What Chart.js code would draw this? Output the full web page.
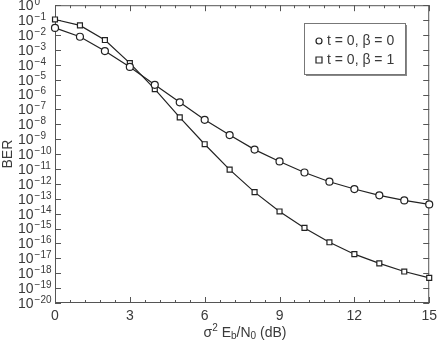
<!DOCTYPE html>
<html>
<head>
<meta charset="utf-8">
<script src="https://cdn.jsdelivr.net/npm/chart.js@4.4.1/dist/chart.umd.min.js"></script>
<style>
  html, body { margin: 0; padding: 0; background: #fff; }
  #wrap { width: 442px; height: 344px; }
</style>
</head>
<body>
<div id="wrap"><canvas id="c"></canvas></div>
<script>
// Eb/N0 in dB
const snr = [0, 1, 2, 3, 4, 5, 6, 7, 8, 9, 10, 11, 12, 13, 14, 15];
// t = 0, beta = 0 (circles)
const berBeta0 = [3.0e-2, 7.6e-3, 8.3e-4, 7.1e-5, 4.5e-6, 3.0e-7, 2.0e-8, 1.9e-9,
                  2.0e-10, 3.2e-11, 5.8e-12, 1.4e-12, 4.5e-13, 1.7e-13, 7.8e-14, 4.2e-14];
// t = 0, beta = 1 (squares)
const berBeta1 = [1.1e-1, 4.4e-2, 4.6e-3, 1.3e-4, 2.3e-6, 2.9e-8, 4.6e-10, 9.1e-12,
                  2.8e-13, 1.4e-14, 1.1e-15, 1.2e-16, 1.9e-17, 4.6e-18, 1.3e-18, 4.9e-19];
const seriesLabels = ['t = 0, β = 0', 't = 0, β = 1'];
const xTicks = [0, 3, 6, 9, 12, 15];
const yExponents = [0, -1, -2, -3, -4, -5, -6, -7, -8, -9, -10,
                    -11, -12, -13, -14, -15, -16, -17, -18, -19, -20];

const ink = '#222';
const textCol = '#3a3a3a';
const font = 'Liberation Sans, Arial, sans-serif';

// frame, inward ticks, y labels, x title
const decor = {
  id: 'decor',
  beforeDatasetsDraw(chart) {
    const ctx = chart.ctx;
    const a = chart.chartArea;
    const xs = chart.scales.x, ys = chart.scales.y;
    ctx.save();
    ctx.strokeStyle = '#555';
    ctx.lineWidth = 1;
    ctx.strokeRect(a.left + 0.5, a.top + 0.5, a.right - a.left - 1, a.bottom - a.top - 1);

    // x ticks every 0.6 dB, longer at multiples of 3
    ctx.beginPath();
    for (let i = 0; i <= 25; i++) {
      const px = Math.round(xs.getPixelForValue(i * 0.6)) + 0.5;
      const len = i % 5 === 0 ? 6 : 3;
      ctx.moveTo(px, a.bottom); ctx.lineTo(px, a.bottom - len);
      ctx.moveTo(px, a.top); ctx.lineTo(px, a.top + len);
    }
    // y ticks every decade
    yExponents.forEach(e => {
      const py = Math.round(ys.getPixelForValue(Math.pow(10, e))) + 0.5;
      ctx.moveTo(a.left, py); ctx.lineTo(a.left + 6, py);
      ctx.moveTo(a.right, py); ctx.lineTo(a.right - 6, py);
    });
    ctx.stroke();

    // y tick labels 10^n
    ctx.fillStyle = textCol;
    ctx.textBaseline = 'middle';
    ctx.textAlign = 'left';
    yExponents.forEach(e => {
      const py = ys.getPixelForValue(Math.pow(10, e));
      ctx.font = '14px ' + font;
      ctx.fillText('10', 18, py + 1);
      const w = ctx.measureText('10').width;
      ctx.font = '10px ' + font;
      ctx.fillText(e === 0 ? '0' : '\u2212' + Math.abs(e), 18 + w + 1, py - 3);
    });

    // x title: sigma^2 E_b/N_0 (dB)
    const parts = [
      ['σ', 14, 0], ['2', 10, -5], [' E', 14, 0], ['b', 10, 3],
      ['/N', 14, 0], ['0', 10, 3], [' (dB)', 14, 0]
    ];
    let total = 0;
    parts.forEach(p => { ctx.font = p[1] + 'px ' + font; total += ctx.measureText(p[0]).width; });
    let x = 245 - total / 2;
    const ty = 333;
    parts.forEach(p => {
      ctx.font = p[1] + 'px ' + font;
      ctx.fillText(p[0], x, ty + p[2]);
      x += ctx.measureText(p[0]).width;
    });
    ctx.restore();
  },
  afterDraw(chart) {
    const ctx = chart.ctx;
    ctx.save();
    // legend box with shadow
    const bx = 304, by = 23, bw = 101, bh = 51;
    ctx.fillStyle = '#888';
    ctx.fillRect(bx + 2, by + 2, bw, bh);
    ctx.fillStyle = '#fff';
    ctx.fillRect(bx, by, bw, bh);
    ctx.strokeStyle = '#777';
    ctx.lineWidth = 1;
    ctx.strokeRect(bx + 0.5, by + 0.5, bw, bh);
    const rows = [41, 60];
    chart.data.datasets.forEach((ds, i) => {
      const y = rows[i];
      ctx.strokeStyle = ink;
      ctx.lineWidth = 1.2;
      ctx.beginPath();
      if (ds.pointStyle === 'circle') ctx.arc(319, y, 3, 0, Math.PI * 2);
      else ctx.rect(316, y - 3, 6, 6);
      ctx.stroke();
      ctx.fillStyle = textCol;
      ctx.font = '14px ' + font;
      ctx.textBaseline = 'middle';
      ctx.fillText(ds.label, 327, y);
    });
    ctx.restore();
  }
};

new Chart(document.getElementById('c'), {
  type: 'line',
  data: {
    datasets: [
      {
        label: seriesLabels[0],
        data: snr.map((s, i) => ({ x: s, y: berBeta0[i] })),
        borderColor: ink, borderWidth: 1.2,
        pointStyle: 'circle', pointRadius: 3.5,
        pointBackgroundColor: '#fff', pointBorderColor: ink, pointBorderWidth: 1.2,
        tension: 0, clip: false
      },
      {
        label: seriesLabels[1],
        data: snr.map((s, i) => ({ x: s, y: berBeta1[i] })),
        borderColor: ink, borderWidth: 1.2,
        pointStyle: 'rect', pointRadius: 3.5,
        pointBackgroundColor: '#fff', pointBorderColor: ink, pointBorderWidth: 1.2,
        tension: 0, clip: false
      }
    ]
  },
  options: {
    responsive: true,
    maintainAspectRatio: false,
    animation: false,
    layout: { padding: { left: 0, right: 9, top: 4, bottom: 0 } },
    plugins: { legend: { display: false }, tooltip: { enabled: false } },
    scales: {
      x: {
        type: 'linear', min: 0, max: 15,
        afterBuildTicks: s => { s.ticks = xTicks.map(v => ({ value: v })); },
        afterFit: s => { s.height = 41; },
        grid: { display: false, drawTicks: false },
        border: { display: false },
        ticks: { color: textCol, font: { family: font, size: 14 }, padding: 5, maxRotation: 0 }
      },
      y: {
        type: 'logarithmic', min: 1e-20, max: 1,
        afterBuildTicks: s => { s.ticks = yExponents.map(e => ({ value: Math.pow(10, e) })); },
        afterFit: s => { s.width = 55; },
        grid: { display: false, drawTicks: false },
        border: { display: false },
        ticks: { display: false },
        title: { display: true, text: 'BER', color: textCol, font: { family: font, size: 14 }, padding: 0 }
      }
    }
  },
  plugins: [decor]
});
</script>
</body>
</html>
